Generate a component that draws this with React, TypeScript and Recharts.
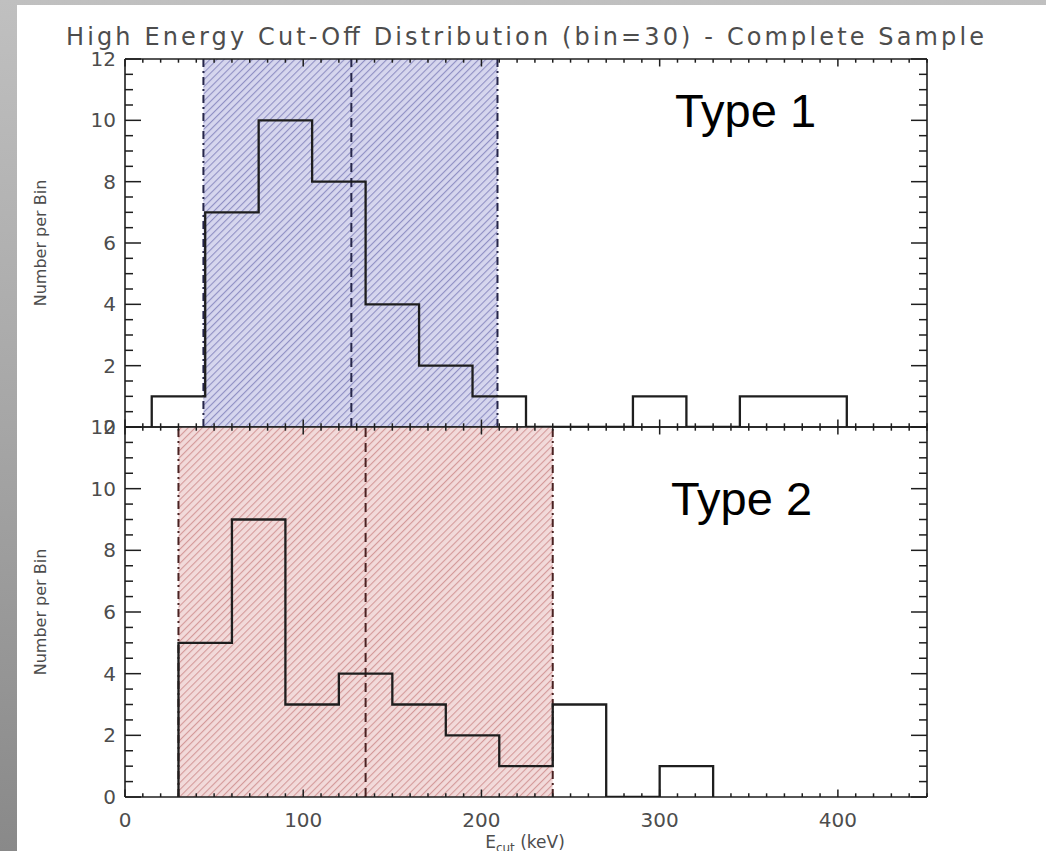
import {
  ComposedChart,
  Line,
  XAxis,
  YAxis,
  ReferenceArea,
  ReferenceLine,
} from "recharts";

// bin edges (keV) and counts per bin
const type1Edges = [15, 45, 75, 105, 135, 165, 195, 225, 255, 285, 315, 345, 375, 405];
const type1Counts = [1, 7, 10, 8, 4, 2, 1, 0, 0, 1, 0, 1, 1];
const type1Range = [44, 209];
const type1Mean = 127;

const type2Edges = [30, 60, 90, 120, 150, 180, 210, 240, 270, 300, 330];
const type2Counts = [5, 9, 3, 4, 3, 2, 1, 3, 0, 1];
const type2Range = [30, 240];
const type2Mean = 135;

const xDomain = [0, 450];
const yDomain = [0, 12];
const xMajor = [0, 100, 200, 300, 400];
const yMajor = [0, 2, 4, 6, 8, 10, 12];

const xTicks = Array.from({ length: 46 }, (_, i) => i * 10);
const yTicks = Array.from({ length: 25 }, (_, i) => i * 0.5);

const W = 1046;
const H = 851;
const ink = "#1e1e1e";
const grey = "#4d4d4d";
const font = "'DejaVu Sans', sans-serif";
const axisStyle = { stroke: ink, strokeWidth: 1.6 };

function stepData(edges: number[], counts: number[]) {
  const pts = [{ e: edges[0], n: 0 }];
  counts.forEach((c, i) => pts.push({ e: edges[i], n: c }));
  pts.push({ e: edges[edges.length - 1], n: 0 });
  return pts;
}

function xTick(side: "bottom" | "top", labels: boolean) {
  return (props: any) => {
    const { x, y, payload } = props;
    const v = payload.value;
    const major = xMajor.includes(v);
    const len = major ? 7.5 : 3.7;
    const dir = side === "bottom" ? -1 : 1;
    return (
      <g>
        <line x1={x} x2={x} y1={y} y2={y + dir * len} stroke={ink} strokeWidth={1.5} />
        {labels && major ? (
          <text x={x} y={y + 30} textAnchor="middle" fontSize={20} fill={grey} fontFamily={font}>
            {v}
          </text>
        ) : null}
      </g>
    );
  };
}

function yTick(side: "left" | "right") {
  return (props: any) => {
    const { x, y, payload } = props;
    const v = payload.value;
    const major = yMajor.includes(v);
    const len = major ? 16 : 8;
    const dir = side === "left" ? 1 : -1;
    return (
      <g>
        <line x1={x} x2={x + dir * len} y1={y} y2={y} stroke={ink} strokeWidth={1.5} />
        {side === "left" && major ? (
          <text x={x - 9} y={y + 7} textAnchor="end" fontSize={20} fill={grey} fontFamily={font}>
            {v}
          </text>
        ) : null}
      </g>
    );
  };
}

type PanelProps = {
  edges: number[];
  counts: number[];
  range: number[];
  mean: number;
  hatchId: string;
  hatchBg: string;
  hatchLine: string;
  markColor: string;
  plotTop: number;
  plotBottom: number;
  xLabels: boolean;
  typeLabel: string;
  typeX: number;
  typeY: number;
  extra?: any;
};

// plot frame: x 125..927
const AXIS_T = 1;

function Panel(p: PanelProps) {
  const data = stepData(p.edges, p.counts);
  const midY = (p.plotTop + p.plotBottom) / 2;
  return (
    <div style={{ position: "absolute", left: 0, top: 0 }}>
      <ComposedChart
        width={W}
        height={H}
        data={data}
        margin={{
          top: p.plotTop - AXIS_T,
          right: W - 927 - AXIS_T,
          bottom: H - p.plotBottom - AXIS_T,
          left: 65,
        }}
      >
        <defs>
          <pattern
            id={p.hatchId}
            width="5"
            height="5"
            patternUnits="userSpaceOnUse"
            patternTransform="rotate(45)"
          >
            <rect width="5" height="5" fill={p.hatchBg} />
            <line x1="0" y1="0" x2="0" y2="5" stroke={p.hatchLine} strokeWidth={2.2} />
          </pattern>
        </defs>
        <XAxis
          xAxisId="b"
          dataKey="e"
          type="number"
          domain={xDomain}
          ticks={xTicks}
          interval={0}
          height={AXIS_T}
          tickSize={0}
          tickMargin={0}
          tickLine={false}
          axisLine={axisStyle}
          tick={xTick("bottom", p.xLabels)}
          allowDataOverflow
        />
        <XAxis
          xAxisId="t"
          orientation="top"
          dataKey="e"
          type="number"
          domain={xDomain}
          ticks={xTicks}
          interval={0}
          height={AXIS_T}
          tickSize={0}
          tickMargin={0}
          tickLine={false}
          axisLine={axisStyle}
          tick={xTick("top", false)}
          allowDataOverflow
        />
        <YAxis
          yAxisId="l"
          type="number"
          domain={yDomain}
          ticks={yTicks}
          interval={0}
          width={60}
          tickSize={0}
          tickMargin={0}
          tickLine={false}
          axisLine={axisStyle}
          tick={yTick("left")}
          allowDataOverflow
        />
        <YAxis
          yAxisId="r"
          orientation="right"
          type="number"
          domain={yDomain}
          ticks={yTicks}
          interval={0}
          width={AXIS_T}
          tickSize={0}
          tickMargin={0}
          tickLine={false}
          axisLine={axisStyle}
          tick={yTick("right")}
          allowDataOverflow
        />
        <ReferenceArea
          xAxisId="b"
          yAxisId="l"
          x1={p.range[0]}
          x2={p.range[1]}
          y1={yDomain[0]}
          y2={yDomain[1]}
          fill={`url(#${p.hatchId})`}
          fillOpacity={1}
          stroke="none"
        />
        <ReferenceLine xAxisId="b" yAxisId="l" x={p.range[0]} stroke={p.markColor} strokeWidth={2} strokeDasharray="8 4 2 4" />
        <ReferenceLine xAxisId="b" yAxisId="l" x={p.range[1]} stroke={p.markColor} strokeWidth={2} strokeDasharray="8 4 2 4" />
        <ReferenceLine xAxisId="b" yAxisId="l" x={p.mean} stroke={p.markColor} strokeWidth={2} strokeDasharray="9 6" />
        <Line
          xAxisId="b"
          yAxisId="l"
          type="stepAfter"
          dataKey="n"
          stroke={ink}
          strokeWidth={2.3}
          dot={false}
          activeDot={false}
          isAnimationActive={false}
        />
        <text
          x={40}
          y={midY}
          transform={`rotate(-90 40 ${midY})`}
          textAnchor="middle"
          dominantBaseline="central"
          fontSize={16}
          fill={grey}
          fontFamily={font}
        >
          Number per Bin
        </text>
        <text
          x={p.typeX}
          y={p.typeY}
          fontSize={47}
          fill="#000"
          fontFamily="'Comic Sans MS', 'Liberation Sans', sans-serif"
        >
          {p.typeLabel}
        </text>
        {p.extra}
      </ComposedChart>
    </div>
  );
}

export default function App() {
  return (
    <div
      style={{
        position: "absolute",
        left: 0,
        top: 0,
        width: W,
        height: H,
        overflow: "hidden",
        background: "linear-gradient(180deg, #c0c0c0 0%, #a6a6a6 50%, #898989 100%)",
      }}
    >
      <div
        style={{
          position: "absolute",
          left: 17,
          top: 5,
          right: 0,
          bottom: 0,
          background: "#ffffff",
        }}
      />
      <Panel
        edges={type1Edges}
        counts={type1Counts}
        range={type1Range}
        mean={type1Mean}
        hatchId="hatchBlue"
        hatchBg="#d6d6ee"
        hatchLine="#9090c4"
        markColor="#26264a"
        plotTop={59}
        plotBottom={427}
        xLabels={false}
        typeLabel="Type 1"
        typeX={675}
        typeY={127}
        extra={
          <text
            x={525}
            y={45}
            textAnchor="middle"
            fontSize={24}
            fill={grey}
            fontFamily={font}
            textLength={918}
            lengthAdjust="spacing"
          >
            High Energy Cut-Off Distribution (bin=30) - Complete Sample
          </text>
        }
      />
      <Panel
        edges={type2Edges}
        counts={type2Counts}
        range={type2Range}
        mean={type2Mean}
        hatchId="hatchRed"
        hatchBg="#f2dada"
        hatchLine="#d49a9a"
        markColor="#4a2222"
        plotTop={427}
        plotBottom={797}
        xLabels={true}
        typeLabel="Type 2"
        typeX={671}
        typeY={515}
        extra={
          <text x={525} y={848} textAnchor="middle" fontSize={17} fill={grey} fontFamily={font}>
            E
            <tspan fontSize={12} dy={4}>cut</tspan>
            <tspan dy={-4}> (keV)</tspan>
          </text>
        }
      />
    </div>
  );
}
